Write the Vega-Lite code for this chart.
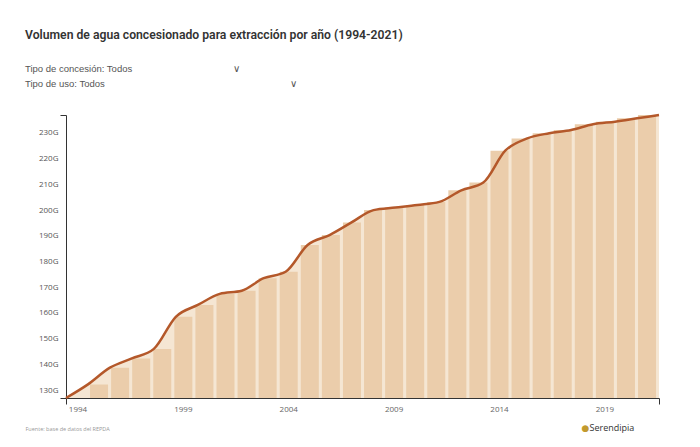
{
  "$schema": "https://vega.github.io/schema/vega-lite/v6.json",
  "width": 593,
  "height": 283,
  "autosize": {"type": "none"},
  "padding": {"left": 66, "top": 115, "right": 41, "bottom": 49},
  "background": "white",
  "title": {
    "text": "Volumen de agua concesionado para extracción por año (1994-2021)",
    "subtitle": ["Tipo de concesión: Todos\u00a0\u00a0\u00a0\u00a0\u00a0\u00a0\u00a0\u00a0\u00a0\u00a0\u00a0\u00a0\u00a0\u00a0\u00a0\u00a0\u00a0\u00a0\u00a0\u00a0\u00a0\u00a0\u00a0\u00a0\u00a0\u00a0\u00a0\u00a0\u00a0\u00a0\u00a0\u00a0\u00a0\u00a0\u00a0\u00a0\u00a0\u00a0∨", "Tipo de uso: Todos\u00a0\u00a0\u00a0\u00a0\u00a0\u00a0\u00a0\u00a0\u00a0\u00a0\u00a0\u00a0\u00a0\u00a0\u00a0\u00a0\u00a0\u00a0\u00a0\u00a0\u00a0\u00a0\u00a0\u00a0\u00a0\u00a0\u00a0\u00a0\u00a0\u00a0\u00a0\u00a0\u00a0\u00a0\u00a0\u00a0\u00a0\u00a0\u00a0\u00a0\u00a0\u00a0\u00a0\u00a0\u00a0\u00a0\u00a0\u00a0\u00a0\u00a0\u00a0\u00a0\u00a0\u00a0\u00a0\u00a0\u00a0\u00a0\u00a0\u00a0\u00a0\u00a0\u00a0\u00a0\u00a0\u00a0\u00a0\u00a0\u00a0\u00a0∨"],
    "anchor": "start",
    "frame": "group",
    "dx": -41,
    "offset": 22,
    "font": "Roboto",
    "fontSize": 12.2,
    "fontWeight": 600,
    "color": "#333333",
    "subtitleFont": "Liberation Sans",
    "subtitleFontSize": 9.5,
    "subtitleColor": "#555555",
    "subtitleLineHeight": 15,
    "subtitlePadding": 22
  },
  "data": {
    "values": [
      {"year": 1994, "volumen": 126.9},
      {"year": 1995, "volumen": 132.2},
      {"year": 1996, "volumen": 138.7},
      {"year": 1997, "volumen": 142.3},
      {"year": 1998, "volumen": 146.0},
      {"year": 1999, "volumen": 158.5},
      {"year": 2000, "volumen": 163.1},
      {"year": 2001, "volumen": 167.4},
      {"year": 2002, "volumen": 168.6},
      {"year": 2003, "volumen": 173.5},
      {"year": 2004, "volumen": 176.0},
      {"year": 2005, "volumen": 186.4},
      {"year": 2006, "volumen": 190.3},
      {"year": 2007, "volumen": 195.2},
      {"year": 2008, "volumen": 200.0},
      {"year": 2009, "volumen": 201.0},
      {"year": 2010, "volumen": 202.0},
      {"year": 2011, "volumen": 203.2},
      {"year": 2012, "volumen": 207.7},
      {"year": 2013, "volumen": 210.7},
      {"year": 2014, "volumen": 223.1},
      {"year": 2015, "volumen": 227.9},
      {"year": 2016, "volumen": 229.9},
      {"year": 2017, "volumen": 231.2},
      {"year": 2018, "volumen": 233.4},
      {"year": 2019, "volumen": 234.4},
      {"year": 2020, "volumen": 235.7},
      {"year": 2021, "volumen": 237.0}
    ]
  },
  "layer": [
    {
      "mark": {"type": "area", "interpolate": "monotone", "color": "#f5e6d3", "clip": true},
      "encoding": {
        "x": {"field": "year", "type": "quantitative", "scale": {"domain": [1994, 2021], "nice": false, "zero": false}, "axis": null},
        "y": {"field": "volumen", "type": "quantitative", "scale": {"domain": [126.9, 237.0], "nice": false, "zero": false}, "axis": null}
      }
    },
    {
      "mark": {"type": "bar", "color": "#ebcdab", "clip": true},
      "encoding": {
        "x": {
          "field": "year", "type": "ordinal",
          "scale": {"paddingInner": 0.145, "paddingOuter": 0.14},
          "axis": {
            "orient": "bottom",
            "values": [1994, 1999, 2004, 2009, 2014, 2019],
            "labelAngle": 0,
            "ticks": false,
            "domain": false,
            "labelFont": "Open Sans",
            "labelFontSize": 8,
            "labelColor": "#666666",
            "labelPadding": 7,
            "title": "Fuente: base de datos del REPDA",
            "titleFont": "Open Sans",
            "titleFontSize": 5.5,
            "titleFontWeight": "normal",
            "titleColor": "#999999",
            "titleAnchor": "start",
            "titleAlign": "left",
            "titleBaseline": "middle",
            "titleX": -41,
            "titleY": 30
          }
        },
        "y": {
          "field": "volumen", "type": "quantitative",
          "scale": {"domain": [126.9, 237.0], "nice": false, "zero": false},
          "axis": {
            "orient": "left",
            "values": [130, 140, 150, 160, 170, 180, 190, 200, 210, 220, 230],
            "labelExpr": "datum.value + 'G'",
            "ticks": false,
            "domain": false,
            "grid": false,
            "labelFont": "Open Sans",
            "labelFontSize": 8,
            "labelColor": "#555555",
            "labelPadding": 8,
            "title": null
          }
        }
      }
    },
    {
      "mark": {"type": "line", "interpolate": "monotone", "color": "#b4582a", "strokeWidth": 2.5},
      "encoding": {
        "x": {
          "field": "year", "type": "quantitative",
          "scale": {"domain": [1994, 2021], "nice": false, "zero": false},
          "axis": {
            "orient": "bottom",
            "values": [1994, 2021],
            "labels": false,
            "grid": false,
            "tickSize": 6,
            "tickColor": "#333333",
            "domainColor": "#333333",
            "title": "Serendipia",
            "titleFont": "Open Sans",
            "titleFontSize": 9,
            "titleFontWeight": 500,
            "titleColor": "#333333",
            "titleAlign": "left",
            "titleBaseline": "middle",
            "titleX": 523,
            "titleY": 29
          }
        },
        "y": {
          "field": "volumen", "type": "quantitative",
          "scale": {"domain": [126.9, 237.0], "nice": false, "zero": false},
          "axis": {
            "orient": "left",
            "values": [126.9, 237.0],
            "labels": false,
            "grid": false,
            "tickSize": 6,
            "tickColor": "#333333",
            "domainColor": "#333333",
            "title": "●",
            "titleFont": "DejaVu Sans",
            "titleAngle": 0,
            "titleFontSize": 9,
            "titleColor": "#c29a2e",
            "titleAlign": "center",
            "titleBaseline": "middle",
            "titleX": 519,
            "titleY": 312
          }
        }
      }
    }
  ],
  "resolve": {"scale": {"x": "independent", "y": "independent"}},
  "config": {"view": {"stroke": null}}
}
